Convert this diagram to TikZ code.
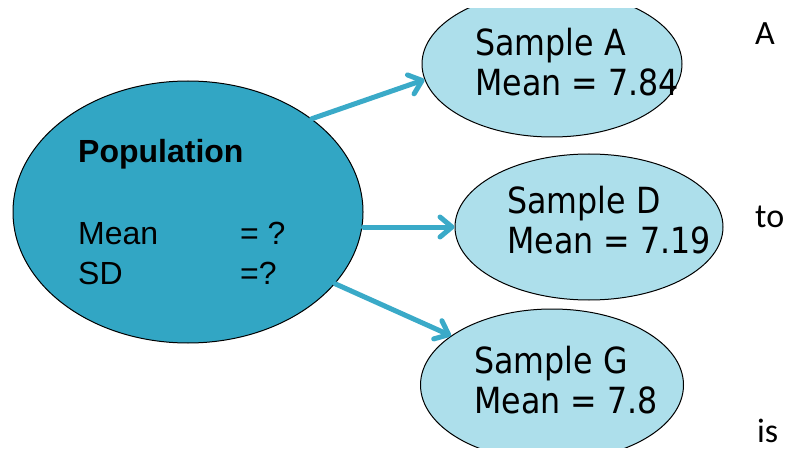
\documentclass[tikz,border=0pt]{standalone}
\usepackage{fontspec}
\setmainfont{Liberation Sans}
\newfontfamily\samplefont{DejaVu Sans}[FakeStretch=0.88]
\newfontfamily\sidefont{Carlito}
\usetikzlibrary{arrows.meta,shapes.geometric}

\definecolor{popblue}{RGB}{50,166,196}
\definecolor{samplefill}{RGB}{173,223,235}
\definecolor{arrowblue}{RGB}{58,170,200}

\begin{document}
\begin{tikzpicture}[x=1pt,y=-1pt]
\tikzstyle{popnode} = [ellipse, draw=black, line width=1pt, fill=popblue,
minimum width=350pt, minimum height=262pt, inner sep=0pt]
\tikzstyle{samplenode} = [ellipse, draw=black, line width=1pt, fill=samplefill,
minimum height=146pt, inner sep=0pt]
\tikzstyle{poptext} = [anchor=west, align=left, inner sep=0pt,
font=\fontsize{32}{40}\selectfont]
\tikzstyle{sampletext} = [anchor=west, align=left, inner sep=0pt,
font=\samplefont\fontsize{36}{40}\selectfont]
\tikzstyle{sidetext} = [anchor=base west, inner sep=0pt,
font=\sidefont\fontsize{34}{40}\selectfont]
\tikzstyle{line} = [draw=arrowblue, line width=5pt, line cap=round,
-{Straight Barb[round,length=12pt,width=20pt]}];
\useasboundingbox (0,0) rectangle (800,449);
\begin{scope}
\clip (0,9) rectangle (800,447);
% population and samples
\node [popnode] (pop) at (188,212) {};
\node [samplenode, minimum width=260pt] (sampA) at (552,64) {};
\node [samplenode, minimum width=268pt] (sampD) at (589,227) {};
\node [samplenode, minimum width=263pt, minimum height=152pt] (sampG) at (552,385) {};
% texts
\node [poptext, xshift=-110pt] (popLbl) at (pop.center)
{\textbf{Population}\\[42pt]
\makebox[162pt][l]{Mean}= ?\\
\makebox[162pt][l]{SD}=?};
\node [sampletext, xshift=-77pt, yshift=2pt] (lblA) at (sampA.center)
{Sample A\\Mean = 7.84};
\node [sampletext, xshift=-82pt, yshift=7pt] (lblD) at (sampD.center)
{Sample D\\Mean = 7.19};
\node [sampletext, xshift=-78pt, yshift=5pt] (lblG) at (sampG.center)
{Sample G\\Mean = 7.8};
% arrows
\path [line] (pop.37) -- (sampA.187);
\path [line] (pop.east |- sampD.west) -- (sampD.west);
\path [line] (pop.-26) -- (sampG.154);
\end{scope}
\node [sidetext] (wordA) at (755,45) {A};
\node [sidetext] (wordTo) at (755,227) {to};
\node [sidetext] (wordIs) at (757,442) {is};
\end{tikzpicture}
\end{document}
